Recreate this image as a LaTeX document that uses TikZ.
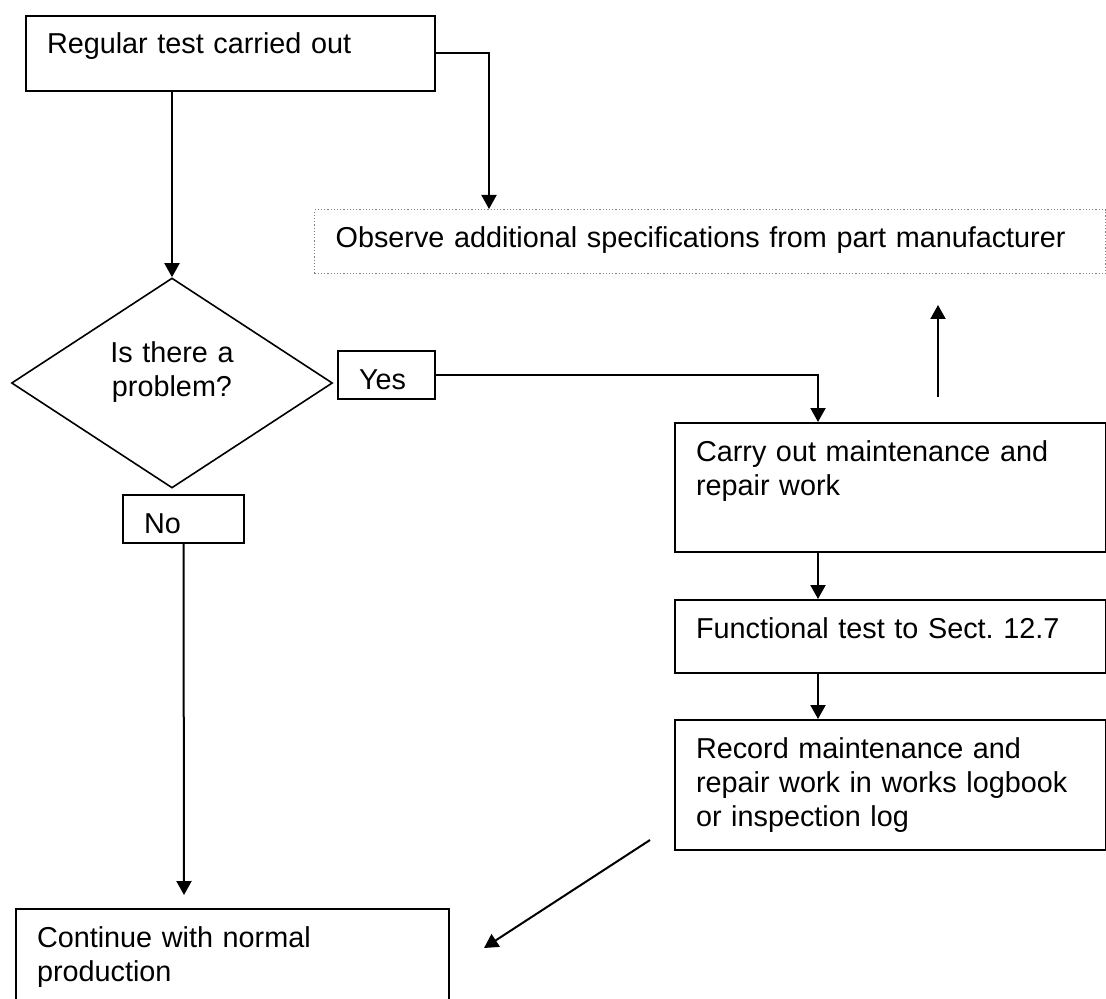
\documentclass[tikz,border=0pt]{standalone}
\usepackage{fontspec}
\setmainfont{Liberation Sans}
\usetikzlibrary{shapes.geometric,arrows.meta}
\frenchspacing

\begin{document}
\begin{tikzpicture}[x=0.5pt,y=-0.5pt,
  font=\fontsize{14.4pt}{17pt}\selectfont,
  box/.style={draw,line width=1pt,anchor=north west,align=left,
    inner xsep=10.5pt,inner ysep=0pt,text height=19pt},
  note/.style={box,draw=gray,line width=0.6pt,densely dotted},
  decision/.style={diamond,draw,line width=0.8pt,minimum width=160.5pt,
    minimum height=105pt,inner sep=0pt,align=center,text width=70pt,
    text height=0pt,text depth=20pt},
  arr/.style={line width=1pt,-{Triangle[length=7pt,width=7.5pt]}}]
\clip (0,0) rectangle (1106,999);
\node[box,text width=183.5pt,text depth=18.5pt] (reg) at (25,15) {Regular test carried out};
\node[note,text width=374.5pt,text depth=13pt] (obs) at (314,209) {Observe additional specifications from part manufacturer};
\node[decision] (prob) at (172,383) {Is there a\\problem?};
\node[box,text width=27.5pt,text depth=5pt] (yes) at (337,350) {Yes};
\node[box,text width=39.5pt,text depth=5pt] (no) at (122,494) {No};
\node[box,text width=194.5pt,text depth=45.5pt] (carry) at (674,422) {Carry out maintenance and\\repair work};
\node[box,text width=194.5pt,text depth=17.5pt] (func) at (674,599) {Functional test to Sect. 12.7};
\node[box,text width=194.5pt,text depth=46pt] (rec) at (674,719) {Record maintenance and\\repair work in works logbook\\or inspection log};
\node[box,text width=195.5pt,text depth=36pt] (cont) at (15,908) {Continue with normal\\production};
\coordinate (upfoot) at (938,397);
\coordinate (uptip) at (938,305);
\coordinate (nofoot) at (184,895);
\coordinate (recout) at (650,840);
\coordinate (contin) at (484,948);
\draw[arr] (reg.east) -| ([xshift=87.5pt]obs.north west);
\draw[arr] (reg.south -| prob.north) -- (prob.north);
\draw[arr] (yes.east) -| ([xshift=72pt]carry.north west);
\draw[arr] ([xshift=72pt]carry.south west) -- ([xshift=72pt]func.north west);
\draw[arr] ([xshift=72pt]func.south west) -- ([xshift=72pt]rec.north west);
\draw[arr] (upfoot) -- (uptip);
\draw[arr] (no.south) -- (nofoot);
\draw[arr] (recout) -- (contin);
\end{tikzpicture}
\end{document}
